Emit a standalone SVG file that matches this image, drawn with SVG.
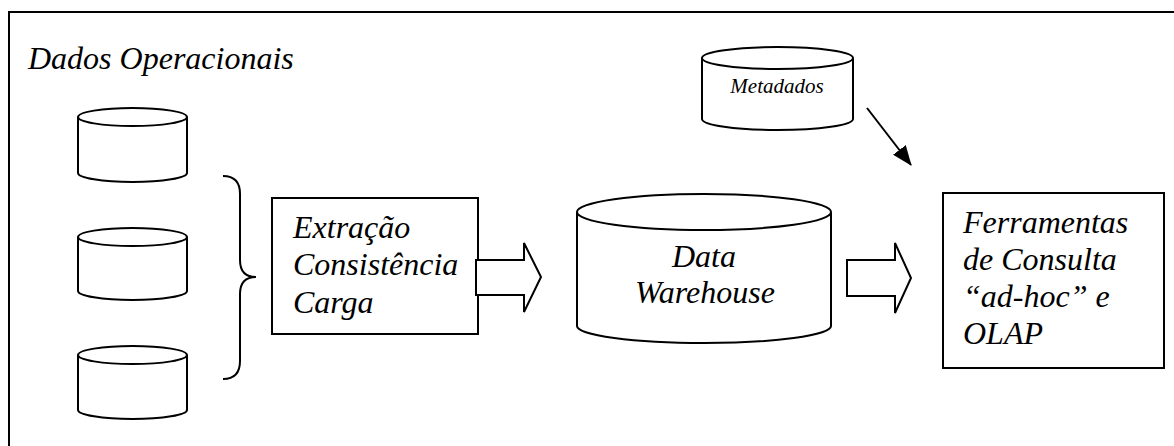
<svg xmlns="http://www.w3.org/2000/svg" width="1174" height="446" viewBox="0 0 1174 446">
<style>
  .s { fill: #fff; stroke: #000; stroke-width: 2; }
  .n { fill: none; stroke: #000; stroke-width: 2; }
  text { font-family: 'Liberation Serif', 'Times New Roman', serif; font-style: italic; fill: #000; }
  .b { font-size: 32px; }
</style>
<defs>
  <marker id="ah" viewBox="0 0 20 16" refX="19" refY="8" markerWidth="20" markerHeight="16" markerUnits="userSpaceOnUse" orient="auto">
    <path d="M0,0 L20,8 L0,16 z" fill="#000"/>
  </marker>
</defs>
<rect width="1174" height="446" fill="#fff"/>
<g id="frame">
  <path class="n" d="M9,446 L9,12 L1174,12"/>
  <text class="b" x="28" y="69">Dados Operacionais</text>
</g>
<g id="db1">
  <path class="s" d="M78,117 L78,173 A54.5,9 0 0 0 187,173 L187,117"/>
  <ellipse class="s" cx="132.5" cy="117" rx="54.5" ry="9"/>
</g>
<g id="db2">
  <path class="s" d="M78,237 L78,291 A54.5,9 0 0 0 187,291 L187,237"/>
  <ellipse class="s" cx="132.5" cy="237" rx="54.5" ry="9"/>
</g>
<g id="db3">
  <path class="s" d="M78,355 L78,410 A54.5,9 0 0 0 187,410 L187,355"/>
  <ellipse class="s" cx="132.5" cy="355" rx="54.5" ry="9"/>
</g>
<g id="brace">
  <path class="n" d="M223,176 Q240,176 240,194 L240,260 Q240,277 256,277 Q240,277 240,294 L240,361 Q240,379 223,379"/>
</g>
<g id="etl">
  <rect class="s" x="272" y="198" width="206" height="136"/>
  <text class="b" x="293" y="238">Extração</text>
  <text class="b" x="293" y="275">Consistência</text>
  <text class="b" x="293" y="313">Carga</text>
</g>
<g id="dw">
  <path class="s" d="M577,212 L577,326 A127,17 0 0 0 831,326 L831,212"/>
  <ellipse class="s" cx="704" cy="212" rx="127" ry="18"/>
  <text class="b" x="704" y="267" text-anchor="middle">Data</text>
  <text class="b" x="705" y="303" text-anchor="middle">Warehouse</text>
</g>
<g id="meta">
  <path class="s" d="M702,58 L702,119 A75.5,11 0 0 0 853,119 L853,58"/>
  <ellipse class="s" cx="777.5" cy="58" rx="75.5" ry="11"/>
  <text x="777" y="93" font-size="21" text-anchor="middle">Metadados</text>
</g>
<g id="tools">
  <rect class="s" x="943" y="193" width="221" height="175"/>
  <text class="b" x="963" y="233">Ferramentas</text>
  <text class="b" x="963" y="270">de Consulta</text>
  <text class="b" x="963" y="307">“ad-hoc” e</text>
  <text class="b" x="963" y="344">OLAP</text>
</g>
<g id="connectors">
  <path class="s" d="M476,260 L524,260 L524,243 L541,277 L524,312 L524,295 L476,295 z"/>
  <path class="s" d="M847,260 L895,260 L895,243 L911,278 L895,313 L895,296 L847,296 z"/>
  <line class="n" x1="867" y1="108" x2="911" y2="165" marker-end="url(#ah)"/>
</g>
</svg>
